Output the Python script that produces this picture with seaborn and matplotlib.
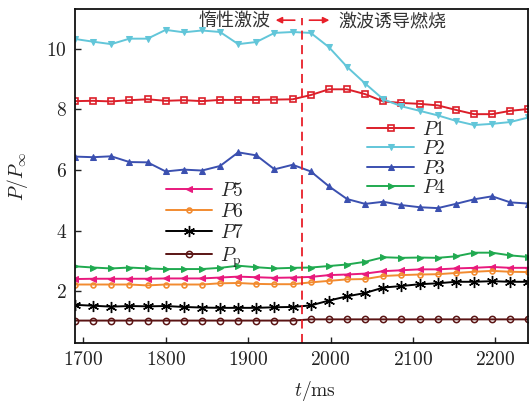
import numpy as np
import pandas as pd
import matplotlib
matplotlib.use("Agg")
import matplotlib.pyplot as plt
import seaborn as sns

# time samples (ms)
t = [1690, 1712, 1734, 1756, 1778, 1800, 1822, 1844, 1866, 1888, 1910, 1932, 1954,
     1976, 1998, 2020, 2042, 2064, 2086, 2108, 2130, 2152, 2174, 2196, 2218, 2240]

# normalised pressure P/P_inf at each gauge
p1 = [8.27, 8.28, 8.26, 8.30, 8.33, 8.28, 8.30, 8.27, 8.31, 8.31, 8.31, 8.32, 8.33,
      8.47, 8.66, 8.66, 8.50, 8.26, 8.21, 8.18, 8.13, 7.98, 7.84, 7.84, 7.95, 8.01]
p2 = [10.32, 10.23, 10.15, 10.33, 10.33, 10.62, 10.54, 10.60, 10.55, 10.15, 10.22, 10.52, 10.55,
      10.52, 10.05, 9.40, 8.85, 8.33, 8.10, 7.95, 7.80, 7.62, 7.48, 7.52, 7.58, 7.73]
p3 = [6.44, 6.42, 6.45, 6.26, 6.25, 5.95, 6.01, 5.98, 6.13, 6.58, 6.48, 6.02, 6.17,
      5.95, 5.46, 5.04, 4.88, 4.95, 4.84, 4.77, 4.74, 4.88, 5.03, 5.13, 4.93, 4.89]
p4 = [2.82, 2.78, 2.75, 2.78, 2.75, 2.73, 2.73, 2.73, 2.77, 2.84, 2.79, 2.75, 2.77,
      2.78, 2.83, 2.88, 2.97, 3.12, 3.10, 3.11, 3.10, 3.15, 3.27, 3.27, 3.18, 3.13]
p5 = [2.40, 2.41, 2.41, 2.41, 2.41, 2.42, 2.42, 2.42, 2.45, 2.48, 2.46, 2.44, 2.45,
      2.47, 2.53, 2.55, 2.58, 2.66, 2.69, 2.72, 2.72, 2.75, 2.77, 2.80, 2.77, 2.77]
p6 = [2.22, 2.22, 2.22, 2.22, 2.19, 2.22, 2.22, 2.22, 2.26, 2.27, 2.24, 2.23, 2.23,
      2.29, 2.34, 2.39, 2.40, 2.50, 2.53, 2.55, 2.56, 2.60, 2.64, 2.67, 2.64, 2.63]
p7 = [1.55, 1.52, 1.49, 1.51, 1.50, 1.51, 1.48, 1.46, 1.45, 1.45, 1.45, 1.47, 1.48,
      1.53, 1.69, 1.83, 1.94, 2.12, 2.17, 2.23, 2.26, 2.31, 2.31, 2.33, 2.31, 2.31]
pp = [1.03, 1.03, 1.03, 1.03, 1.03, 1.03, 1.03, 1.03, 1.03, 1.03, 1.03, 1.03, 1.03,
      1.07, 1.07, 1.07, 1.07, 1.07, 1.07, 1.07, 1.07, 1.07, 1.07, 1.07, 1.07, 1.07]

labels = ["$P1$", "$P2$", "$P3$", "$P4$", "$P5$", "$P6$", "$P7$", r"$P_{\rm p}$"]
series = [p1, p2, p3, p4, p5, p6, p7, pp]

x_ticks = [1700, 1800, 1900, 2000, 2100, 2200]
y_ticks = [2, 4, 6, 8, 10]
t_shock = 1965

sns.set_theme(style="ticks")
plt.rcParams["font.family"] = ["cmr10", "Noto Sans CJK SC"]
plt.rcParams["mathtext.fontset"] = "cm"
plt.rcParams["axes.formatter.use_mathtext"] = True

styles = [
    dict(color="#dc1f2a", marker="s", mfc="none", mec="#dc1f2a", ms=4.5, mew=1.2),
    dict(color="#62c6d9", marker="v", ms=5, mec="#62c6d9"),
    dict(color="#3b50b0", marker="^", ms=5, mec="#3b50b0"),
    dict(color="#20aa50", marker=">", ms=5, mec="#20aa50"),
    dict(color="#e8197d", marker="<", ms=5, mec="#e8197d"),
    dict(color="#f28b30", marker="o", ms=3.5, mfc="none", mec="#f28b30", mew=1.2),
    dict(color="#000000", marker=(6, 2, 0), ms=8, mec="#000000", mew=1.0),
    dict(color="#5a1414", marker="o", ms=4.5, mfc="none", mec="#5a1414", mew=1.1),
]

fig = plt.figure(figsize=(5.3, 4.03), dpi=100)
ax = fig.add_axes([0.1415, 0.1496, 0.8555, 0.8274])

handles = []
for vals, lab, st in zip(series, labels, styles):
    df = pd.DataFrame({"t": t, "p": vals})
    sns.lineplot(data=df, x="t", y="p", ax=ax, lw=1.4, label=lab, **st)
    handles.append(ax.get_lines()[-1])

ax.set_xlim(1690, 2240)
ax.set_ylim(0.3, 11.3)
ax.set_xticks(x_ticks)
ax.set_yticks(y_ticks)
ax.tick_params(direction="in", length=4, width=1, labelsize=14, colors="#222222",
               top=False, right=False, pad=6)
for s in ax.spines.values():
    s.set_linewidth(1.3)
    s.set_color("#111111")

ax.set_xlabel("$t$/ms", fontsize=14, color="#222222")
ax.xaxis.set_label_coords(0.53, -0.11)
ax.set_ylabel(r"$P/P_{\infty}$", fontsize=14, color="#222222")
ax.yaxis.set_label_coords(-0.10, 0.5)

# shock-arrival divider and phase annotations
ax.vlines(t_shock, 0.3, 11.0, colors="#e8202a", linestyles=(0, (5, 3)), lw=1.3)
ax.annotate("", xy=(1930, 10.94), xytext=(1960, 10.94),
            arrowprops=dict(arrowstyle="-|>", color="#e8202a", lw=1.2, mutation_scale=9))
ax.annotate("", xy=(2002, 10.94), xytext=(1971, 10.94),
            arrowprops=dict(arrowstyle="-|>", color="#e8202a", lw=1.2, mutation_scale=9))
ax.text(1927, 10.9, "惰性激波", ha="right", va="center", fontsize=13, color="#333333")
ax.text(2009, 10.88, "激波诱导燃烧", ha="left", va="center", fontsize=13, color="#333333")

leg1 = ax.legend(handles=handles[:4], labels=labels[:4], loc="upper left",
                 bbox_to_anchor=(0.615, 0.707), frameon=False, fontsize=14,
                 handlelength=2.4, handletextpad=0.4, labelspacing=0.08, borderpad=0.2)
ax.add_artist(leg1)
ax.legend(handles=handles[4:], labels=labels[4:], loc="upper left",
          bbox_to_anchor=(0.17, 0.522), frameon=False, fontsize=14,
          handlelength=2.4, handletextpad=0.4, labelspacing=0.15, borderpad=0.2)

fig.savefig("out.png", dpi=100)
